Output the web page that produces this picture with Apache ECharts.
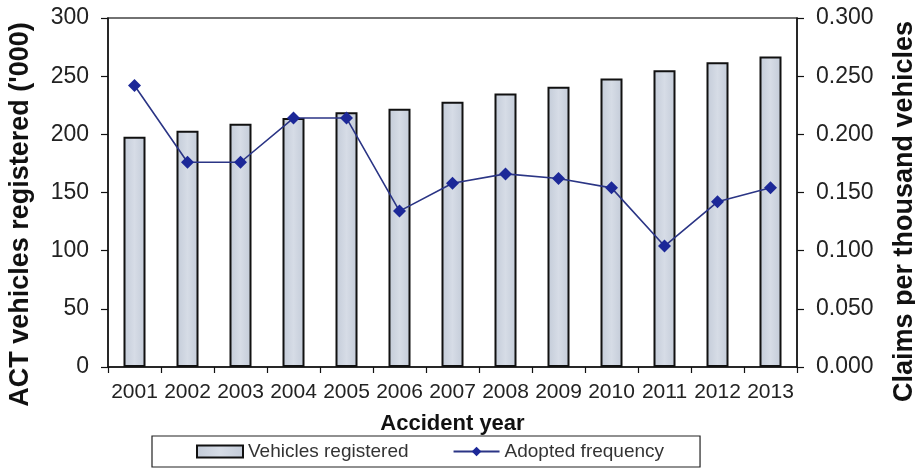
<!DOCTYPE html>
<html>
<head>
<meta charset="utf-8">
<script src="https://cdn.jsdelivr.net/npm/echarts@6/dist/echarts.min.js"></script>
<style>
  html, body { margin: 0; padding: 0; background: #ffffff; }
  #chart { width: 915px; height: 471px; }
</style>
</head>
<body>
<div id="chart"></div>
<script>
// Accident years on the category axis
const years = ['2001','2002','2003','2004','2005','2006','2007','2008','2009','2010','2011','2012','2013'];
// ACT vehicles registered, thousands
const vehiclesRegistered = [198, 203, 209, 214, 219, 222, 228, 235, 241, 248, 255, 262, 267];
// Adopted claim frequency, claims per thousand vehicles
const adoptedFrequency = [0.242, 0.176, 0.176, 0.214, 0.214, 0.134, 0.158, 0.166, 0.162, 0.154, 0.104, 0.142, 0.154];

const font = 'Liberation Sans, Arial, sans-serif';

const chart = echarts.init(document.getElementById('chart'), null, { renderer: 'canvas' });

chart.setOption({
  backgroundColor: '#ffffff',
  animation: false,
  grid: {
    left: 108, right: 118, top: 18, bottom: 104,
    outerBoundsMode: 'none',
    show: true, borderColor: '#444', borderWidth: 1.5, backgroundColor: 'transparent'
  },
  legend: {
    left: 152, top: 436,
    padding: [6, 36, 6, 44],
    itemGap: 44,
    itemWidth: 46, itemHeight: 12,
    borderColor: '#222', borderWidth: 1.2,
    textStyle: { fontFamily: font, fontSize: 19, color: '#333' },
    data: [
      { name: 'Vehicles registered', icon: 'rect' },
      { name: 'Adopted frequency' }
    ]
  },
  xAxis: {
    type: 'category',
    data: years,
    name: 'Accident year',
    nameLocation: 'middle',
    nameGap: 46,
    nameTextStyle: { fontFamily: font, fontSize: 22, fontWeight: 'bold', color: '#111' },
    axisLine: { lineStyle: { color: '#111', width: 1.5 } },
    axisTick: { show: true, length: 6, lineStyle: { color: '#111', width: 1.2 } },
    axisLabel: { fontFamily: font, fontSize: 21, color: '#222', margin: 15, interval: 0 }
  },
  yAxis: [
    {
      type: 'value', min: 0, max: 300, interval: 50,
      name: "ACT vehicles registered ('000)",
      nameLocation: 'middle', nameGap: 74, nameRotate: 90,
      nameTextStyle: {
        fontFamily: font, fontSize: 27, fontWeight: 'bold', color: '#111',
        padding: [0, 44, 0, 0]
      },
      axisLine: { show: true, lineStyle: { color: '#111', width: 1.5 } },
      axisTick: { show: true, length: 7, lineStyle: { color: '#111', width: 1.2 } },
      axisLabel: { fontFamily: font, fontSize: 23, color: '#222', margin: 19 },
      splitLine: { show: false }
    },
    {
      type: 'value', min: 0, max: 0.3, interval: 0.05,
      name: 'Claims per thousand vehicles',
      nameLocation: 'middle', nameGap: 94, nameRotate: 90,
      nameTextStyle: {
        fontFamily: font, fontSize: 27, fontWeight: 'bold', color: '#111',
        padding: [0, 38, 0, 0]
      },
      axisLine: { show: true, lineStyle: { color: '#111', width: 1.5 } },
      axisTick: { show: true, length: 7, lineStyle: { color: '#111', width: 1.2 } },
      axisLabel: {
        fontFamily: font, fontSize: 23, color: '#222', margin: 19,
        formatter: v => v.toFixed(3)
      },
      splitLine: { show: false }
    }
  ],
  series: [
    {
      name: 'Vehicles registered',
      type: 'bar',
      yAxisIndex: 0,
      data: vehiclesRegistered,
      barWidth: 22,
      itemStyle: {
        color: new echarts.graphic.LinearGradient(0, 0, 1, 0, [
          { offset: 0, color: '#c3cbd8' },
          { offset: 0.5, color: '#d6dce6' },
          { offset: 1, color: '#c3cbd8' }
        ]),
        borderColor: '#111',
        borderWidth: 2
      }
    },
    {
      name: 'Adopted frequency',
      type: 'line',
      yAxisIndex: 1,
      data: adoptedFrequency,
      symbol: 'diamond',
      symbolSize: 13,
      lineStyle: { color: '#2b3585', width: 1.6 },
      itemStyle: { color: '#1c2898' }
    }
  ]
});
</script>
</body>
</html>
